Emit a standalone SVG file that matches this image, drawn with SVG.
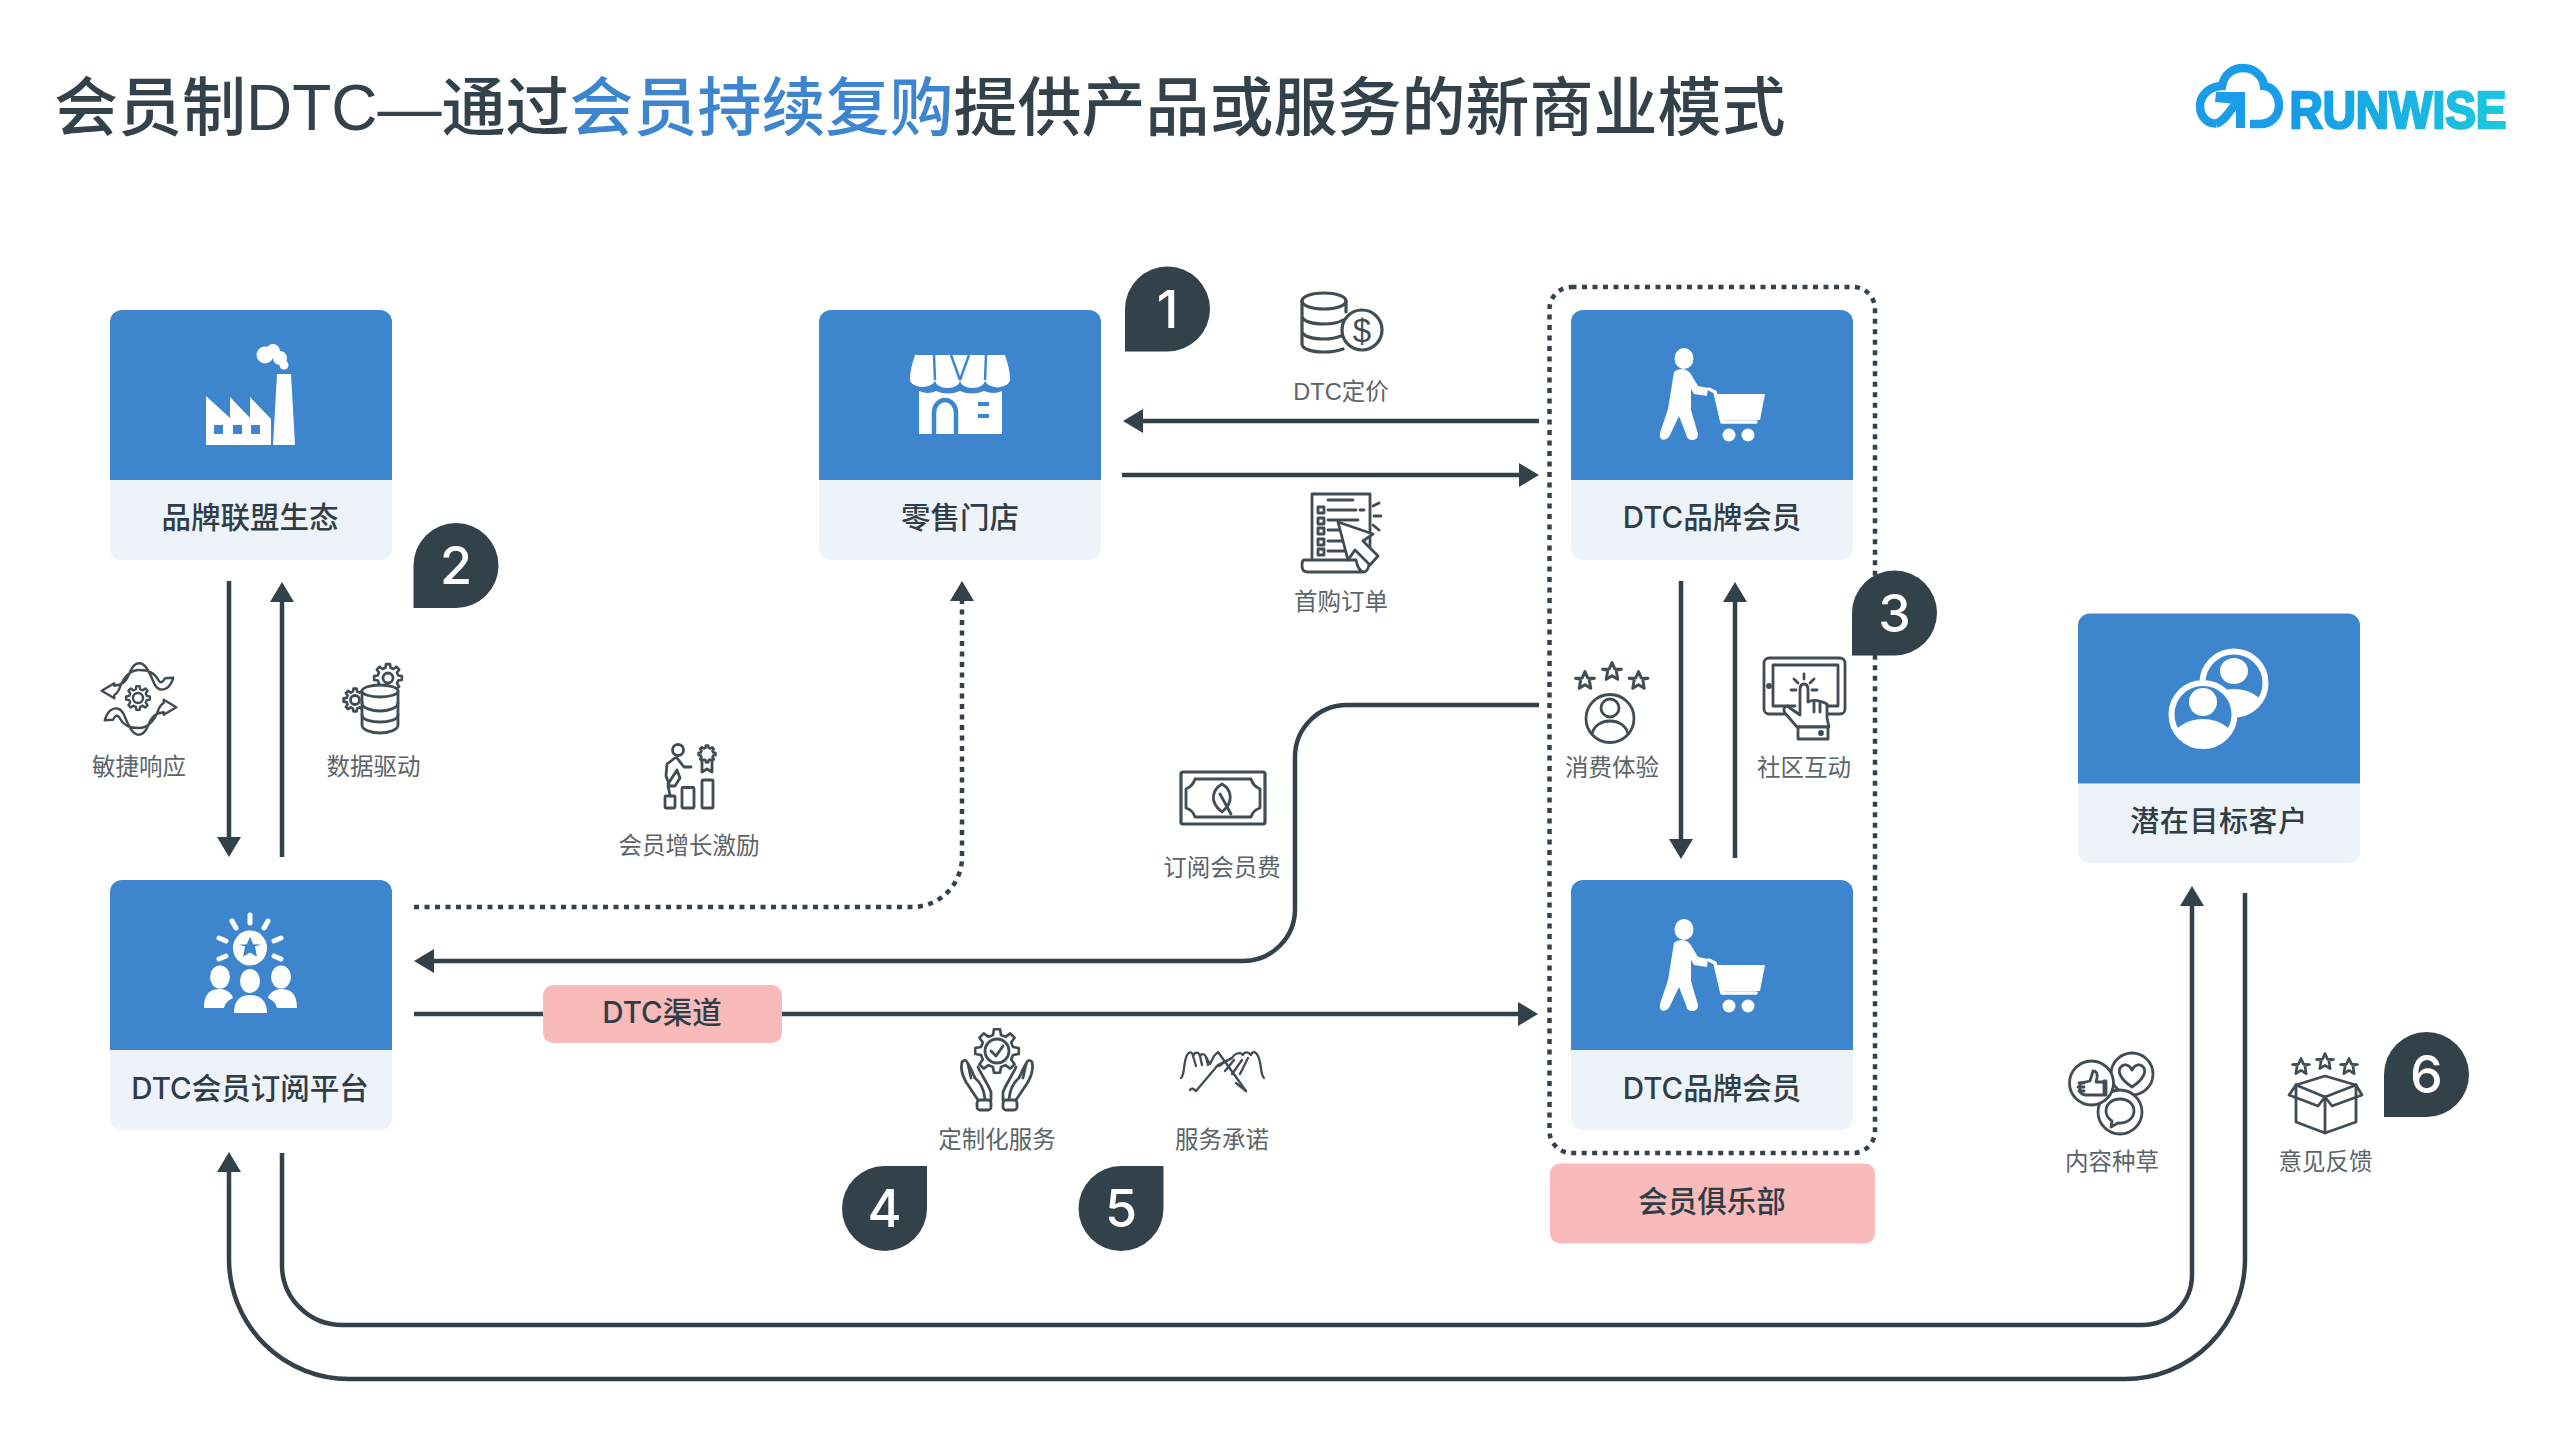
<svg xmlns="http://www.w3.org/2000/svg" width="2560" height="1440" viewBox="0 0 2560 1440">
<style>
text{font-family:"Liberation Sans","Noto Sans CJK SC",sans-serif;text-anchor:middle}
.title{font-size:64px;font-weight:500;fill:#33414b;text-anchor:start}
.blue{fill:#3d86cf}
.name{font-family:Inter,"Noto Sans CJK SC",sans-serif;font-size:29.5px;font-weight:500;fill:#2f3d47}
.small{font-size:23.5px;fill:#5b6469}
.num{font-family:Inter,"Liberation Sans",sans-serif;font-size:52px;font-weight:500;fill:#fff}
.card-top{fill:#3d86ce}
.card-bot{fill:#eef3f9}
.pill{fill:#f9baba}
.wire{fill:none;stroke:#33414b;stroke-width:4.500}
.dot{fill:none;stroke:#33414b;stroke-width:4.500;stroke-dasharray:5 5.500}
.ln{fill:none;stroke:#414c54;stroke-width:2.800;stroke-linejoin:round;stroke-linecap:round}
.lnw{fill:#fff;stroke:#414c54;stroke-width:2.800;stroke-linejoin:round;stroke-linecap:round}
.wf{fill:#fff}
.ws{fill:none;stroke:#fff;stroke-linecap:round;stroke-linejoin:round}
.badge{fill:#33414b}
</style>
<defs>
<marker id="ah" markerUnits="userSpaceOnUse" markerWidth="20" markerHeight="24" viewBox="0 0 20 24" refX="10" refY="12" orient="auto"><path d="M0 0L20 12L0 24Z" fill="#33414b"/></marker>
<linearGradient id="lg" x1="0" x2="1" y1="0" y2="0"><stop offset="0" stop-color="#159ae9"/><stop offset="1" stop-color="#1cc9dc"/></linearGradient>
<g id="card">
<path class="card-bot" d="M0 170H282V238a12 12 0 0 1-12 12H12a12 12 0 0 1-12-12Z"/>
<path class="card-top" d="M12 0H270a12 12 0 0 1 12 12V170H0V12A12 12 0 0 1 12 0Z"/>
</g>
<path id="bl" class="badge" d="M-42.500 0A42.500 42.500 0 1 1 0 42.500H-42.500Z"/>
<path id="tr" class="badge" d="M42.500 0A42.500 42.500 0 1 1 0-42.500H42.500Z"/>
<path id="gear" d="M7.28-1.81L9.9-1.39L9.9 1.39L7.28 1.81L6.43 3.86L7.99 6.02L6.02 7.99L3.86 6.43L1.81 7.28L1.39 9.9L-1.39 9.9L-1.81 7.28L-3.86 6.43L-6.02 7.99L-7.99 6.02L-6.43 3.86L-7.28 1.81L-9.9 1.39L-9.9-1.39L-7.28-1.81L-6.43-3.86L-7.99-6.02L-6.02-7.99L-3.86-6.43L-1.81-7.28L-1.39-9.9L1.39-9.9L1.81-7.28L3.86-6.43L6.02-7.99L7.99-6.02L6.43-3.86Z"/>
<path id="star" d="M0-9L2.600-3L9-2.600L4-1.500L5.500 7L0 3.500L-5.500 7L-4-1.500L-9-2.600L-2.600-3Z"/>
<g id="shopper">
<ellipse class="wf" cx="1684" cy="358.500" rx="9.500" ry="10.500"/>
<path class="wf" d="M1674 372C1682 366 1689 370 1692 376L1698 386L1708 388L1707 396L1694 394L1691 389L1691 410L1698 434Q1698 440 1692 440Q1687 440 1686 434L1679 416L1669 437Q1665 441 1661 439Q1659 436 1660 433L1668 409Z"/>
<path class="ws" stroke-width="3.500" d="M1709 389L1715 392L1722 422H1756"/>
<path class="wf" d="M1714 394H1765L1760 420H1720Z"/>
<circle class="wf" cx="1729" cy="435" r="6.500"/><circle class="wf" cx="1748" cy="435" r="6.500"/>
</g>
</defs>

<g id="title">
<text class="title" x="54" y="130">会员制DTC—通过<tspan class="blue">会员持续复购</tspan>提供产品或服务的新商业模式</text>
</g>

<g id="logo">
<path fill="none" stroke="#1a9ce9" stroke-width="8.500" d="M2216 123.500C2206 124 2200 115 2200 106C2200 95 2210 86 2222 86C2224 74 2233 68 2243 68C2254 68 2263 76 2264 86C2274 87 2279 97 2279 105C2279 116 2271 124 2260 124H2250"/>
<path fill="none" stroke="#1a9ce9" stroke-width="8.500" d="M2216 123.500C2224 122 2228 112 2236 104"/>
<path fill="#1a9ce9" d="M2216 92H2245V128H2236V104L2215 102Z"/>
<text x="2398" y="128" font-size="52" font-weight="700" fill="url(#lg)" stroke="url(#lg)" stroke-width="2.500" textLength="217" lengthAdjust="spacingAndGlyphs">RUNWISE</text>
</g>

<g id="connectors">
<path class="wire" marker-end="url(#ah)" d="M1539 421H1133"/>
<path class="wire" marker-end="url(#ah)" d="M1122 475H1529"/>
<path class="wire" marker-end="url(#ah)" d="M1681 581V849"/>
<path class="wire" marker-end="url(#ah)" d="M1735 858V592"/>
<path class="wire" marker-end="url(#ah)" d="M1539 705H1347A52 52 0 0 0 1295 757V909A52 52 0 0 1 1243 961H424"/>
<path class="dot" d="M414 907H912A50 50 0 0 0 962 857V600"/>
<path class="wire" marker-end="url(#ah)" d="M962 600V591"/>
<path class="wire" d="M414 1014H545"/>
<path class="wire" marker-end="url(#ah)" d="M780 1014H1528"/>
<path class="wire" marker-end="url(#ah)" d="M229 581V847"/>
<path class="wire" marker-end="url(#ah)" d="M282 857V592"/>
<path class="wire" marker-end="url(#ah)" d="M2245 893V1259A120 120 0 0 1 2125 1379H349A120 120 0 0 1 229 1259V1162"/>
<path class="wire" marker-end="url(#ah)" d="M282 1153V1265A60 60 0 0 0 342 1325H2142A50 50 0 0 0 2192 1275V896"/>
</g>

<g id="node-brand">
<use href="#card" x="110" y="310"/>
<path class="wf" d="M206 396L230 418V397L250 418V397L271 419V445H206Z"/>
<rect class="card-top" x="214" y="425" width="9" height="9"/><rect class="card-top" x="233" y="425" width="9" height="9"/><rect class="card-top" x="251" y="425" width="9" height="9"/>
<path class="wf" d="M277 374H291L295 445H273Z"/>
<circle class="wf" cx="265" cy="355" r="8.500"/><circle class="wf" cx="273" cy="351" r="7"/><circle class="wf" cx="280" cy="358" r="7"/><circle class="wf" cx="284" cy="365" r="4.500"/>
<text class="name" x="250" y="528">品牌联盟生态</text>
</g>

<g id="node-retail">
<use href="#card" x="819" y="310"/>
<path class="wf" d="M915 355H1005Q1010 370 1010 378A12 8 0 0 1 985 380A12.500 8 0 0 1 960 380A12.500 8 0 0 1 935 380A12.500 8 0 0 1 910 378Q910 370 915 355Z"/>
<path fill="none" stroke="#3d86ce" stroke-width="2.500" d="M934 355L935 380M951 355L960 380M969 355L960 380M986 355L985 380"/>
<path class="wf" d="M919 391Q928 395 936 391Q948 396 960 391Q972 396 984 391Q994 395 1002 391V434H919Z"/>
<path fill="none" stroke="#3d86ce" stroke-width="4.500" d="M934 434V413A11 13 0 0 1 956 413V434"/>
<path fill="none" stroke="#3d86ce" stroke-width="4" d="M978 404H989M978 416H989"/>
<text class="name" x="960" y="528">零售门店</text>
</g>

<g id="node-member-1">
<use href="#card" x="1571" y="310"/>
<use href="#shopper"/>
<text class="name" x="1712" y="528">DTC品牌会员</text>
</g>

<g id="node-member-2">
<use href="#card" x="1571" y="880"/>
<use href="#shopper" y="571"/>
<text class="name" x="1712" y="1098.500">DTC品牌会员</text>
</g>

<g id="node-platform">
<use href="#card" x="110" y="880"/>
<ellipse class="wf" cx="250" cy="948" rx="17" ry="17.500"/>
<use href="#star" transform="translate(250 948) scale(1.250)" fill="#3d86ce"/>
<path class="ws" stroke-width="5" d="M250 915V923M232 921L236 928M268 921L264 928M219 938L226 941M281 938L274 941M219 959L226 956M281 959L274 956"/>
<ellipse class="wf" cx="220" cy="977" rx="10" ry="11.500"/><ellipse class="wf" cx="281" cy="977" rx="10" ry="11.500"/>
<path class="wf" d="M204 1008C204 992 212 989 220 989C226 989 232 993 233 998C226 1001 225 1005 224 1008Z"/>
<path class="wf" d="M297 1008C297 992 289 989 281 989C275 989 269 993 268 998C275 1001 276 1005 277 1008Z"/>
<ellipse class="wf" cx="250" cy="981" rx="10" ry="12"/>
<path class="wf" d="M234 1013C234 999 242 995 250 995C258 995 267 999 267 1013Z"/>
<text class="name" x="250" y="1098.500">DTC会员订阅平台</text>
</g>

<g id="node-prospect">
<use href="#card" x="2078" y="613.500"/>
<clipPath id="c2"><circle cx="2234" cy="683" r="32"/></clipPath>
<clipPath id="c1"><circle cx="2203" cy="714.500" r="32"/></clipPath>
<g clip-path="url(#c2)"><ellipse class="wf" cx="2234" cy="671" rx="14" ry="13"/><ellipse class="wf" cx="2234" cy="716" rx="34" ry="27"/></g>
<circle cx="2234" cy="683" r="31.500" fill="none" stroke="#fff" stroke-width="6"/>
<circle cx="2203" cy="714.500" r="34" fill="#3d86ce"/>
<g clip-path="url(#c1)"><ellipse class="wf" cx="2203" cy="702" rx="14" ry="14"/><ellipse class="wf" cx="2203" cy="746" rx="34" ry="27"/></g>
<circle cx="2203" cy="714.500" r="31.500" fill="none" stroke="#fff" stroke-width="6"/>
<text class="name" x="2219" y="832" style="font-size:29px" letter-spacing=".6">潜在目标客户</text>
</g>

<g id="frame-club">
<rect x="1549.500" y="287" width="325.500" height="866" rx="22" fill="none" stroke="#33414b" stroke-width="4.500" stroke-dasharray="5 5.500"/>
</g>
<g id="pill-club">
<rect class="pill" x="1550" y="1163.500" width="325" height="80" rx="10"/>
<text class="name" x="1712" y="1211.500">会员俱乐部</text>
</g>
<g id="pill-channel">
<rect class="pill" x="543" y="985" width="239" height="58" rx="10"/>
<text class="name" x="662" y="1023">DTC渠道</text>
</g>

<g id="badges">
<g id="badge-1"><use href="#bl" x="1167.500" y="309"/><text class="num" x="1167.500" y="328">1</text></g>
<g id="badge-2"><use href="#bl" x="456" y="565.500"/><text class="num" x="456" y="584">2</text></g>
<g id="badge-3"><use href="#bl" x="1894.500" y="613"/><text class="num" x="1894.500" y="632">3</text></g>
<g id="badge-4"><use href="#tr" x="884.500" y="1208.500"/><text class="num" x="884.500" y="1227">4</text></g>
<g id="badge-5"><use href="#tr" x="1121" y="1208.500"/><text class="num" x="1121" y="1227">5</text></g>
<g id="badge-6"><use href="#bl" x="2426.500" y="1074.500"/><text class="num" x="2426.500" y="1092.500">6</text></g>
</g>

<g id="label-pricing">
<path class="ln" style="stroke-width:3.200" d="M1302 301V344C1302 349 1312 352 1324 352C1332 352 1338 351 1343 349M1346 301V312M1302 316C1302 321 1312 324 1324 324C1331 324 1338 323 1343 320M1302 331C1302 336 1312 339 1324 339C1330 339 1336 338 1341 336"/>
<ellipse class="ln" style="stroke-width:3.200" cx="1324" cy="301" rx="22" ry="8"/>
<circle class="lnw" style="stroke-width:3.200" cx="1362" cy="330" r="20"/>
<text x="1362" y="342" font-size="33" fill="#414c54">$</text>
<text class="small" x="1341" y="400">DTC定价</text>
</g>

<g id="label-order">
<path class="ln" d="M1312 558V494H1370V553"/>
<path class="ln" d="M1328 500H1353M1328 510H1356M1360 510H1364M1328 520H1358M1328 530H1345M1328 541H1345M1328 551H1345"/>
<rect class="ln" x="1318" y="507" width="6" height="6"/><rect class="ln" x="1318" y="518" width="6" height="6"/><rect class="ln" x="1318" y="528" width="6" height="6"/><rect class="ln" x="1318" y="539" width="6" height="6"/><rect class="ln" x="1318" y="549" width="6" height="6"/>
<path class="ln" d="M1304 560H1356Q1358 571 1364 572H1308Q1302 572 1302 566Q1302 560 1304 560ZM1364 572Q1370 571 1370 553"/>
<path class="lnw" d="M1338 522L1373 534L1363 541L1378 556L1370 565L1355 550L1348 560Z"/>
<path class="ln" d="M1373 506L1379 503M1374 516H1381M1373 525L1379 530"/>
<text class="small" x="1341" y="610">首购订单</text>
</g>

<g id="label-agile">
<g id="agile-half">
<path class="ln" style="stroke-width:2.400" d="M101.700 690.700L114.300 683.300V685.700C121 685 126 683 130 672C133 665 136 663.300 139.300 663.300C146 663.300 150 674 154 683C157 690 162 691 167 688C170 686 172 682 173.300 677.700L165 678.300C163 682 161 683.500 159 681C154 672 148 670 139.300 670C130 670 124 677 120 687C118.500 692 116 694 114.300 695V698.300Z"/>
</g>
<use href="#agile-half" transform="rotate(180 139 699)"/>
<use href="#gear" class="lnw" transform="translate(138 698) scale(1.200)" style="stroke-width:2"/>
<circle class="ln" style="stroke-width:2.400" cx="138" cy="698" r="5"/>
<text class="small" x="139" y="775">敏捷响应</text>
</g>

<g id="label-data">
<use href="#gear" class="lnw" transform="translate(388 678) scale(1.400)" style="stroke-width:1.900"/>
<circle class="ln" cx="388" cy="678" r="5"/>
<use href="#gear" class="lnw" transform="translate(355 700) scale(1.150)" style="stroke-width:2.300"/>
<circle class="ln" cx="355" cy="700" r="4.500"/>
<path class="lnw" d="M362 691V725C362 730 372 733 380 733C388 733 398 730 398 725V691Z"/>
<ellipse class="lnw" cx="380" cy="691" rx="18" ry="6"/>
<path class="ln" d="M362 703C362 708 372 711 380 711C388 711 398 708 398 703M362 715C362 720 372 722 380 722C388 722 398 720 398 715"/>
<text class="small" x="373.500" y="775">数据驱动</text>
</g>

<g id="label-growth">
<circle class="ln" cx="678" cy="750" r="5.500"/>
<path class="ln" d="M675 758L667 764L666 776L669 784M677 758L684 767L691 767M677 770L680 778L675 786H668L670 795M677 770L668 784"/>
<rect class="ln" x="665" y="796" width="10" height="12" rx="1"/>
<rect class="ln" x="682" y="787.500" width="12" height="20.500" rx="1"/>
<rect class="ln" x="702" y="780" width="11" height="28" rx="1"/>
<use href="#gear" class="ln" transform="translate(707 754) scale(.85)" style="stroke-width:3"/>
<path class="ln" d="M702 761V772L707 769L712 772V761"/>
<text class="small" x="689" y="853.500">会员增长激励</text>
</g>

<g id="label-fee">
<rect class="ln" style="stroke-width:3.200" x="1181" y="772" width="84" height="52" rx="2"/>
<path class="ln" d="M1195 779H1251Q1253 786 1260 789V808Q1253 810 1251 817H1195Q1193 810 1186 808V789Q1193 786 1195 779Z"/>
<path class="ln" d="M1222 784C1212 790 1209 802 1222 812C1234 802 1232 790 1222 784ZM1220 794L1231 814"/>
<text class="small" x="1222" y="876">订阅会员费</text>
</g>

<g id="label-experience">
<use href="#star" class="ln" transform="translate(1585 681) scale(1.050)"/>
<use href="#star" class="ln" transform="translate(1612 672) scale(1.050)"/>
<use href="#star" class="ln" transform="translate(1638.500 681) scale(1.050)"/>
<circle class="ln" cx="1610" cy="718.500" r="24"/>
<circle class="ln" cx="1610" cy="708" r="9"/>
<path class="ln" d="M1592 734C1594 725 1602 721 1610 721C1618 721 1626 725 1628 734"/>
<text class="small" x="1612" y="776">消费体验</text>
</g>

<g id="label-community">
<rect class="ln" x="1764" y="658" width="81" height="56" rx="5"/>
<path class="ln" d="M1795 706H1773V665H1838V706H1826"/>
<circle class="ln" cx="1769" cy="686" r="1.500"/>
<path class="lnw" d="M1797 727L1785 713Q1782 708 1787 706L1800 715V690Q1800 684 1804 684Q1808 684 1808 690V702Q1815 698 1827 704V718L1829 727Z"/>
<path class="ln" d="M1814 702V712M1820 703V712"/>
<rect class="lnw" x="1798" y="727" width="30" height="12"/>
<circle class="ln" cx="1821" cy="733" r="1.500"/>
<path class="ln" d="M1804 674V679M1794 679L1798 683M1814 679L1810 683M1791 690H1796M1817 690H1812"/>
<text class="small" x="1804" y="776">社区互动</text>
</g>

<g id="label-custom">
<use href="#gear" class="ln" transform="translate(997 1051) scale(2.200)" style="stroke-width:1.200"/>
<circle class="ln" cx="997" cy="1051" r="12"/>
<path class="ln" d="M991 1051L996 1056L1003 1046"/>
<g id="hand-l">
<path class="ln" d="M978 1100L966 1082C961 1073 961 1066 962 1062Q966 1058 968 1064L971 1078"/>
<path class="ln" d="M985 1099C984 1090 980 1082 975 1078C972 1072 970 1066 968 1064M978 1067C982 1076 988 1084 991 1092V1100"/>
<rect class="ln" x="977" y="1100" width="14" height="10" rx="3"/>
</g>
<use href="#hand-l" transform="matrix(-1 0 0 1 1994 0)"/>
<text class="small" x="997" y="1148">定制化服务</text>
</g>

<g id="label-promise">
<path class="ln" style="stroke-width:2.300" d="M1181 1078C1185 1074 1183 1064 1187 1055C1190 1050 1193 1053 1193 1056C1195 1051 1199 1052 1200 1056C1202 1053 1205 1054 1206 1057L1210 1064L1214 1056L1218 1052L1246 1091"/>
<path class="ln" style="stroke-width:2.300" d="M1193 1056L1196 1066M1200 1056L1202 1065M1206 1057L1208 1065"/>
<path class="ln" style="stroke-width:2.300" d="M1264 1078C1260 1074 1262 1064 1258 1056C1255 1050 1252 1052 1251 1055C1248 1051 1244 1052 1243 1055C1240 1051 1234 1054 1232 1058L1218 1065L1196 1091"/>
<path class="ln" style="stroke-width:2.300" d="M1219 1066C1224 1062 1228 1060 1232 1058M1225 1071L1234 1060M1232 1074L1242 1060M1240 1074L1248 1058"/>
<path class="ln" style="stroke-width:2.300" d="M1196 1091Q1192 1087 1190 1090M1246 1091L1236 1083"/>
<text class="small" x="1222" y="1148">服务承诺</text>
</g>

<g id="label-content">
<circle class="ln" cx="2132" cy="1074" r="21"/>
<path class="ln" d="M2132 1087C2120 1079 2118 1072 2120 1068C2123 1063 2129 1064 2132 1070C2135 1064 2141 1063 2144 1068C2146 1072 2144 1079 2132 1087Z"/>
<circle class="lnw" cx="2120" cy="1112" r="22"/>
<path class="ln" d="M2120 1099C2111 1099 2106 1105 2106 1111C2106 1116 2109 1119 2112 1121L2111 1127L2118 1123C2127 1124 2134 1118 2134 1111C2134 1104 2128 1099 2120 1099Z"/>
<circle class="lnw" cx="2091.500" cy="1083" r="22"/>
<path class="ln" d="M2080 1083L2090 1081L2093 1071Q2098 1071 2097 1078L2096 1082H2104V1095H2086Q2082 1095 2080 1092ZM2104 1081H2106V1095H2104"/>
<path class="ln" d="M2079 1083H2084M2078 1087H2084M2079 1091H2084"/>
<text class="small" x="2112" y="1170">内容种草</text>
</g>

<g id="label-feedback">
<use href="#star" class="ln" transform="translate(2301 1067) scale(.95)"/>
<use href="#star" class="ln" transform="translate(2325 1062) scale(.95)"/>
<use href="#star" class="ln" transform="translate(2349 1067) scale(.95)"/>
<path class="ln" d="M2296 1085V1122L2325 1133L2356 1122V1085"/>
<path class="ln" d="M2296 1085L2325 1076L2356 1085L2325 1097ZM2325 1097V1133"/>
<path class="ln" d="M2296 1085L2289 1095L2318 1106L2325 1097L2332 1106L2362 1095L2356 1085"/>
<text class="small" x="2325.500" y="1170">意见反馈</text>
</g>
</svg>
